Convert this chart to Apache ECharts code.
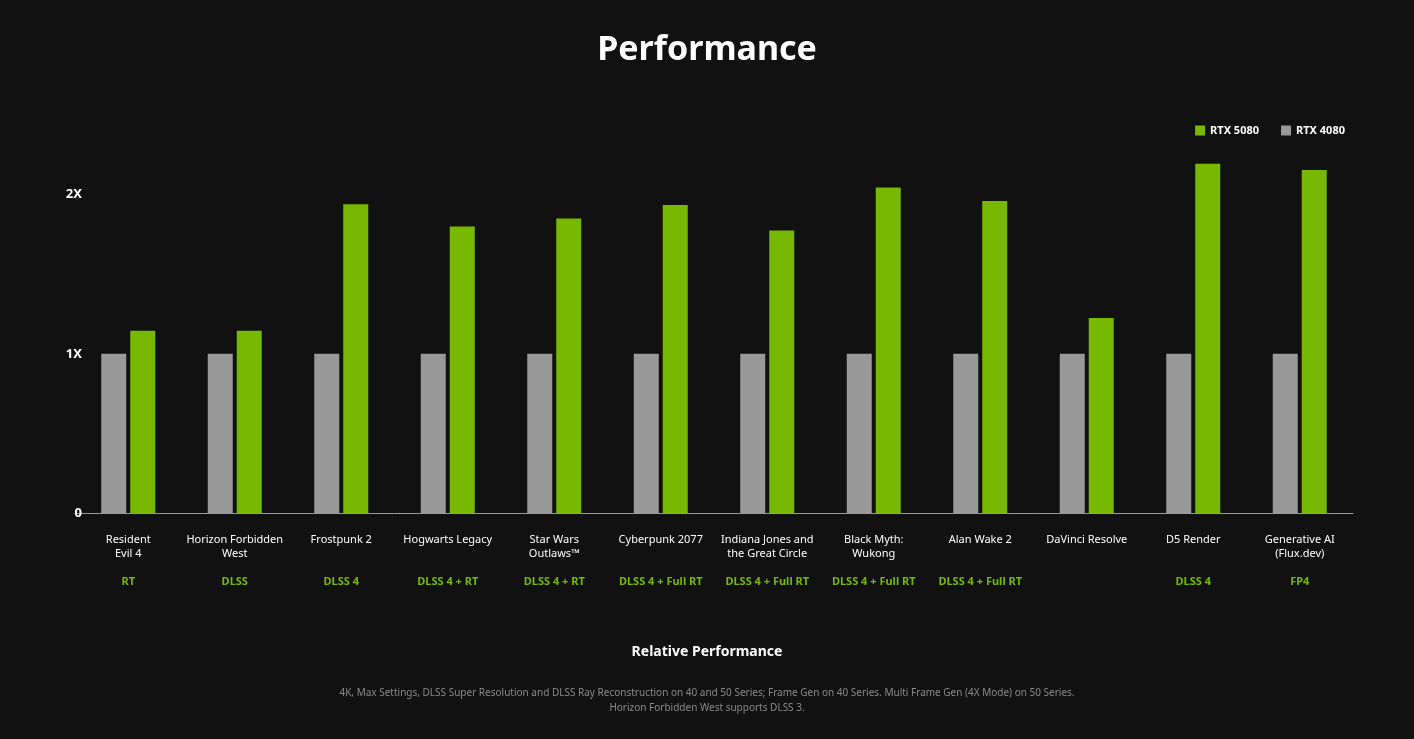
<!DOCTYPE html>
<html>
<head>
<meta charset="utf-8">
<script src="https://cdn.jsdelivr.net/npm/echarts@6/dist/echarts.min.js"></script>
<style>
  html, body { margin: 0; padding: 0; background: #111111; }
  #chart { width: 1414px; height: 739px; }
</style>
</head>
<body>
<div id="chart"></div>
<script>
var categories = ['Resident\nEvil 4', 'Horizon Forbidden\nWest', 'Frostpunk 2', 'Hogwarts Legacy', 'Star Wars\nOutlaws™',
    'Cyberpunk 2077', 'Indiana Jones and\nthe Great Circle', 'Black Myth:\nWukong', 'Alan Wake 2', 'DaVinci Resolve',
    'D5 Render', 'Generative AI\n(Flux.dev)'];
var tags = ['RT', 'DLSS', 'DLSS 4', 'DLSS 4 + RT', 'DLSS 4 + RT', 'DLSS 4 + Full RT', 'DLSS 4 + Full RT',
    'DLSS 4 + Full RT', 'DLSS 4 + Full RT', '', 'DLSS 4', 'FP4'];
var rtx4080 = [1, 1, 1, 1, 1, 1, 1, 1, 1, 1, 1, 1];
var rtx5080 = [1.145, 1.145, 1.94, 1.80, 1.85, 1.935, 1.775, 2.045, 1.96, 1.225, 2.195, 2.155];
var yTicks = {0: '0', 1: '1X', 2: '2X'};

var myChart = echarts.init(document.getElementById('chart'));
var option = {
    backgroundColor: '#111111',
    textStyle: {fontFamily: 'Noto Sans'},
    title: [
        {text: 'Performance', left: 'center', top: 28,
         textStyle: {color: '#ffffff', fontSize: 34, fontWeight: 'bold'}},
        {text: 'Relative Performance', left: 'center', top: 640,
         textStyle: {color: '#ffffff', fontSize: 14, fontWeight: 'bold'}},
        {text: '4K, Max Settings, DLSS Super Resolution and DLSS Ray Reconstruction on 40 and 50 Series; Frame Gen on 40 Series. Multi Frame Gen (4X Mode) on 50 Series.\nHorizon Forbidden West supports DLSS 3.',
         left: 'center', top: 681,
         textStyle: {color: '#8a8a8a', fontSize: 10, fontWeight: 'normal', lineHeight: 15, align: 'center'}}
    ],
    legend: {
        right: 64, top: 120, itemWidth: 10, itemHeight: 10, itemGap: 22, icon: 'rect',
        textStyle: {color: '#ffffff', fontSize: 11, fontWeight: 'bold'},
        data: ['RTX 5080', 'RTX 4080']
    },
    grid: {left: 75, right: 61, top: 147, bottom: 226},
    xAxis: {
        type: 'category',
        data: categories,
        axisLine: {lineStyle: {color: '#9a9a9a', width: 1}},
        axisTick: {show: false},
        axisLabel: {
            interval: 0, margin: 20, verticalAlign: 'top',
            formatter: function (v, i) {
                var lines = v.split('\n');
                if (lines.length < 2) lines.push(' ');
                return '{n|' + lines.join('}\n{n|') + '}\n{g|' + (tags[i] || ' ') + '}';
            },
            rich: {
                n: {color: '#ffffff', fontSize: 11, lineHeight: 14},
                g: {color: '#76b900', fontSize: 11, fontWeight: 'bold', lineHeight: 26, verticalAlign: 'bottom', padding: [12, 0, 0, 0]}
            }
        }
    },
    yAxis: {
        type: 'value', min: 0, max: 2.3, interval: 1,
        splitLine: {show: false},
        axisLine: {show: false},
        axisTick: {show: false},
        axisLabel: {
            color: '#ffffff', fontSize: 13, fontWeight: 'bold', margin: -7,
            formatter: function (v) { return yTicks[v] !== undefined ? yTicks[v] : ''; }
        }
    },
    series: [
        {name: 'RTX 4080', type: 'bar', data: rtx4080, barWidth: 25, barGap: '16%',
         itemStyle: {color: '#999999'}},
        {name: 'RTX 5080', type: 'bar', data: rtx5080, barWidth: 25,
         itemStyle: {color: '#76b900'}}
    ]
};
myChart.setOption(option);
</script>
</body>
</html>
